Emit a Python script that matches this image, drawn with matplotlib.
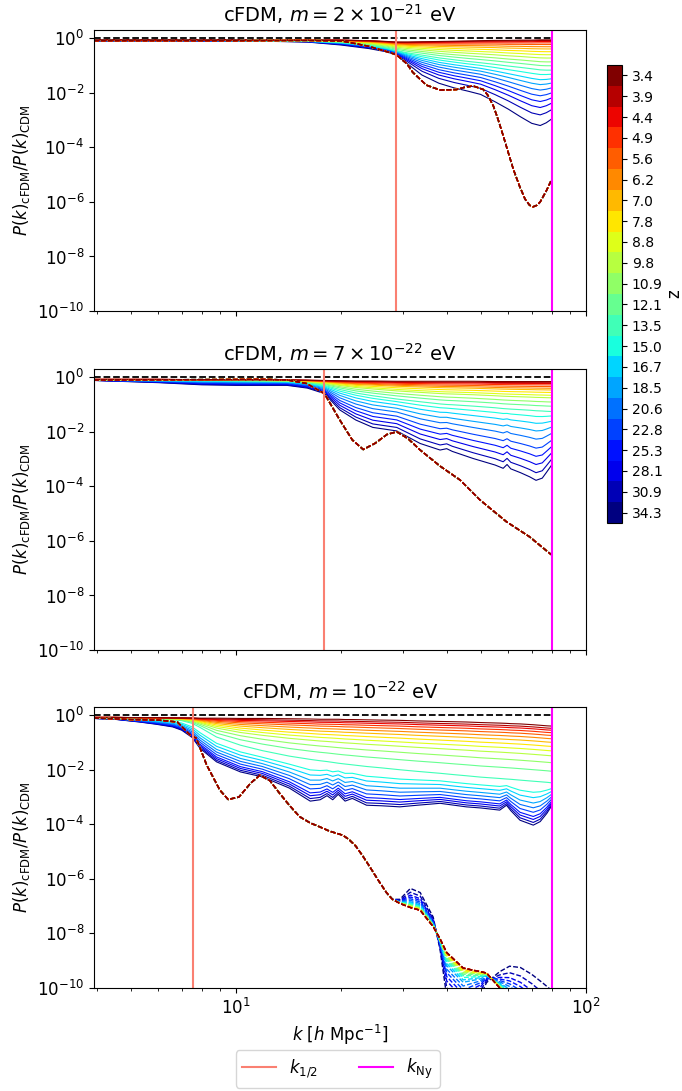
import numpy as np
import matplotlib.pyplot as plt
from matplotlib.colors import ListedColormap, Normalize
from matplotlib.cm import ScalarMappable
from matplotlib.lines import Line2D

# redshifts of the snapshots (colour bar)
z_vals = [3.4, 3.9, 4.4, 4.9, 5.6, 6.2, 7.0, 7.8, 8.8, 9.8, 10.9, 12.1,
          13.5, 15.0, 16.7, 18.5, 20.6, 22.8, 25.3, 28.1, 30.9, 34.3]

titles = [r"cFDM, $m = 2 \times 10^{-21}$ eV",
          r"cFDM, $m = 7 \times 10^{-22}$ eV",
          r"cFDM, $m = 10^{-22}$ eV"]
k_half = [28.7, 17.9, 7.55]
k_ny = 80.0
k_min = 3.93

# ---- panel 1 : m = 2e-21 (log10 of the ratio) ----
k1 = [3.93, 8, 12, 16, 20, 24, 27, 28.7, 31, 34, 38, 42, 46, 50, 55, 60, 65, 70, 74, 77, 80]
top1 = [-0.06, -0.06, -0.06, -0.07, -0.07, -0.09, -0.12, -0.14, -0.14, -0.13, -0.12,
        -0.11, -0.10, -0.09, -0.08, -0.08, -0.07, -0.07, -0.06, -0.06, -0.06]
mid1 = [-0.08, -0.08, -0.09, -0.1, -0.15, -0.25, -0.36, -0.45, -0.54, -0.62, -0.72,
        -0.79, -0.85, -0.9, -0.96, -1.02, -1.07, -1.12, -1.16, -1.17, -1.17]
bot1 = [-0.1, -0.1, -0.11, -0.14, -0.25, -0.38, -0.5, -0.62, -0.95, -1.35, -1.65,
        -1.82, -1.94, -2.06, -2.33, -2.6, -2.88, -3.12, -3.2, -3.1, -2.95]
ref_k1 = 74
ref1 = [-0.06, -0.085, -0.12, -0.17, -0.23, -0.31, -0.39, -0.49, -0.60, -0.72, -0.86,
        -1.0, -1.16, -1.33, -1.52, -1.7, -1.9, -2.11, -2.32, -2.54, -2.81, -3.2]
kd1 = [3.93, 10, 16, 20, 22, 24, 26.3, 28.7, 30.8, 32, 35, 38.3, 42.7, 45, 47.6, 50.9,
       52.5, 54.4, 56, 58.1, 60, 62, 64.5, 67, 69, 70.6, 72.5, 74, 77, 80]
dash1 = [-0.09, -0.09, -0.08, -0.1, -0.2, -0.3, -0.45, -0.6, -0.94, -1.25, -1.72, -1.9,
         -1.88, -1.8, -1.75, -1.88, -2.1, -2.49, -2.95, -3.6, -4.2, -4.8, -5.4, -5.9,
         -6.12, -6.18, -6.12, -6.0, -5.6, -5.15]

# ---- panel 2 : m = 7e-22 ----
k2 = [3.93, 6, 8, 10, 12, 14, 16, 17.9, 19.8, 22, 24.6, 28.8, 33.6, 38.3, 40, 41.5,
      47.6, 55, 58, 59.5, 61, 65, 69, 72, 75, 77, 80]
top2 = [-0.08, -0.08, -0.09, -0.09, -0.1, -0.1, -0.11, -0.12, -0.13, -0.14, -0.14,
        -0.15, -0.15, -0.15, -0.15, -0.15, -0.15, -0.16, -0.16, -0.16, -0.16, -0.16,
        -0.16, -0.16, -0.16, -0.16, -0.16]
mid2 = [-0.1, -0.11, -0.12, -0.13, -0.14, -0.15, -0.2, -0.3, -0.45, -0.58, -0.68,
        -0.8, -0.9, -0.98, -1.0, -1.01, -1.06, -1.12, -1.15, -1.16, -1.17, -1.19,
        -1.21, -1.23, -1.24, -1.25, -1.26]
bot2 = [-0.12, -0.2, -0.28, -0.3, -0.3, -0.3, -0.4, -0.6, -1.2, -1.57, -1.84,
        -1.97, -2.43, -2.67, -2.62, -2.72, -2.98, -3.22, -3.34, -3.2, -3.36, -3.5,
        -3.65, -3.78, -3.7, -3.5, -3.2]
ref_k2 = 72
ref2 = [-0.16, -0.2, -0.23, -0.28, -0.34, -0.4, -0.46, -0.55, -0.65, -0.74, -0.89,
        -1.04, -1.23, -1.44, -1.69, -1.97, -2.27, -2.6, -2.9, -3.2, -3.5, -3.78]
kd2 = [3.93, 8, 12, 14, 15.9, 17.9, 19.8, 21.5, 23.1, 25, 27, 28.8, 31, 33.6, 38.3,
       43.7, 49.8, 59.3, 69, 78.8, 80]
dash2 = [-0.1, -0.09, -0.08, -0.1, -0.23, -0.6, -1.57, -2.3, -2.65, -2.42, -2.1, -2.0,
         -2.25, -2.67, -3.26, -3.77, -4.5, -5.3, -5.85, -6.46, -6.52]

# ---- panel 3 : m = 1e-22 ----
k3 = [3.93, 4.5, 5.3, 5.9, 6.6, 7.0, 7.5, 7.9, 8.8, 10.3, 11.9, 14.2, 16.3, 17.4,
      18.2, 18.9, 19.6, 20.5, 21.5, 23.6, 26, 29.4, 33, 38.3, 42, 45.5, 50, 56.7,
      59.3, 61, 64.8, 70.7, 74, 77.3, 80]
top3 = [-0.08, -0.08, -0.09, -0.09, -0.1, -0.1, -0.1, -0.11, -0.11, -0.12, -0.12,
        -0.13, -0.14, -0.15, -0.15, -0.15, -0.15, -0.16, -0.16, -0.17, -0.18, -0.19,
        -0.21, -0.23, -0.24, -0.25, -0.27, -0.29, -0.3, -0.31, -0.32, -0.35, -0.37,
        -0.39, -0.4]
mid3 = [-0.1, -0.1, -0.12, -0.14, -0.17, -0.2, -0.3, -0.45, -0.8, -1.1, -1.3, -1.5,
        -1.62, -1.67, -1.7, -1.73, -1.76, -1.79, -1.82, -1.88, -1.93, -2.0, -2.06,
        -2.13, -2.18, -2.22, -2.27, -2.32, -2.34, -2.35, -2.38, -2.42, -2.44, -2.46,
        -2.48]
bot3 = [-0.12, -0.15, -0.25, -0.33, -0.43, -0.55, -0.82, -1.22, -1.71, -2.08, -2.26,
        -2.67, -3.15, -3.1, -2.95, -3.1, -2.9, -3.15, -3.05, -3.3, -3.32, -3.36, -3.3,
        -3.23, -3.3, -3.36, -3.4, -3.48, -3.3, -3.5, -3.85, -4.03, -3.9, -3.6, -3.3]
ref_k3 = 64.8
ref3 = [-0.32, -0.4, -0.47, -0.56, -0.66, -0.78, -0.91, -1.06, -1.22, -1.4, -1.65,
        -1.96, -2.38, -2.75, -2.93, -3.11, -3.27, -3.42, -3.56, -3.66, -3.76, -3.85]
kd3 = [3.93, 5, 6, 6.8, 7.4, 7.7, 8.25, 9.0, 9.5, 10.2, 11, 11.7, 12.5, 13.3, 14.2,
       15.2, 16.3, 17.4, 18.5, 20.2, 21, 22, 23, 24.1, 25.5, 26.9, 28, 29.4, 31.5,
       33.6, 36.6, 38.3, 40, 44.6, 49.8, 52, 56.7, 60.5, 65, 70, 75, 80]
dash3 = [-0.1, -0.16, -0.18, -0.25, -0.73, -0.84, -1.83, -2.75, -3.09, -3.0, -2.5,
         -2.2, -2.4, -2.85, -3.3, -3.72, -3.95, -4.1, -4.25, -4.4, -4.55, -4.8, -5.15,
         -5.55, -6.05, -6.5, -6.75, -6.9, -7.05, -7.15, -7.75, -8.2, -8.7, -9.27, -9.4,
         -9.45, -10.0, -10.4, -10.8, -11.2, -11.6, -12.0]
# highest-z dashed curve beyond k = 29.4 (same as dash3 below that)
k_tail3 = 29.4
dash3_blue_tail = [-6.75, -6.35, -6.5, -7.4, -8.6, -10.3, -11.0, -10.3, -9.8, -9.4,
                   -9.2, -9.25, -9.5, -9.8, -10.1]
dash3_mix = [0, 0, 0, 0, 0, 0, 0.02, 0.04, 0.06, 0.08, 0.1, 0.13, 0.16, 0.2, 0.25,
             0.3, 0.38, 0.46, 0.55, 0.65, 0.8, 1.0]


def fan(k, top, mid, bot, k_ref, refs):
    top, mid, bot = np.array(top), np.array(mid), np.array(bot)
    j = int(np.argmin(np.abs(np.array(k) - k_ref)))
    out = []
    for r in refs:
        if r >= mid[j]:
            w = (top[j] - r) / (top[j] - mid[j])
            out.append(top + w * (mid - top))
        else:
            w = (mid[j] - r) / (mid[j] - bot[j])
            out.append(mid + w * (bot - mid))
    return out


jet = plt.get_cmap('jet')
n = len(z_vals)
colors = [jet(1 - i / (n - 1)) for i in range(n)]

fig = plt.figure(figsize=(6.82, 10.91), dpi=100)
positions = [[0.1378, 0.7149, 0.7214, 0.2576],
             [0.1378, 0.4042, 0.7214, 0.2576],
             [0.1378, 0.0944, 0.7214, 0.2576]]

panels = [
    (k1, top1, mid1, bot1, ref_k1, ref1, kd1, dash1),
    (k2, top2, mid2, bot2, ref_k2, ref2, kd2, dash2),
    (k3, top3, mid3, bot3, ref_k3, ref3, kd3, dash3),
]

axes = []
for p, (k, top, mid, bot, kref, refs, kd, dash) in enumerate(panels):
    ax = fig.add_axes(positions[p])
    axes.append(ax)
    curves = fan(k, top, mid, bot, kref, refs)
    for i in reversed(range(n)):
        ax.plot(k, 10 ** curves[i], color=colors[i], lw=0.8)
    ax.plot([k_min, k_ny], [1, 1], 'k--', lw=1.3)
    dash = np.array(dash)
    if p == 2:
        blue = dash.copy()
        blue[np.array(kd) >= k_tail3] = dash3_blue_tail
    for i in reversed(range(n)):
        if p == 2:
            d = dash + dash3_mix[i] * (blue - dash)
        else:
            d = dash
        ax.plot(kd, 10 ** d, color=colors[i], lw=1.0, ls=(0, (3.5, 1.5)))
    ax.axvline(k_half[p], color='salmon', lw=1.5)
    ax.axvline(k_ny, color='magenta', lw=1.5)
    ax.set_xscale('log')
    ax.set_yscale('log')
    ax.set_xlim(k_min, 100)
    ax.set_ylim(1e-10, 2.0)
    ax.set_yticks([1e0, 1e-2, 1e-4, 1e-6, 1e-8, 1e-10])
    ax.yaxis.set_minor_locator(plt.NullLocator())
    ax.tick_params(axis='both', labelsize=12)
    ax.set_title(titles[p], fontsize=14)
    ax.set_ylabel(r"$P(k)_{\rm cFDM}/P(k)_{\rm CDM}$", fontsize=12)
    if p < 2:
        ax.tick_params(axis='x', which='both', labelbottom=False)

axes[2].set_xlabel(r"$k$ [$h$ Mpc$^{-1}$]", fontsize=12)

cax = fig.add_axes([0.890, 0.5206, 0.022, 0.4198])
cmap = ListedColormap(colors[::-1])
sm = ScalarMappable(norm=Normalize(0, n), cmap=cmap)
cb = fig.colorbar(sm, cax=cax, ticks=np.arange(n) + 0.5)
cb.ax.set_yticklabels([f"{z:.1f}" for z in z_vals[::-1]], fontsize=10)
cb.set_label("z", fontsize=12, labelpad=2)

handles = [Line2D([], [], color='salmon', lw=1.5),
           Line2D([], [], color='magenta', lw=1.5)]
fig.legend(handles, [r"$k_{1/2}$", r"$k_{\rm Ny}$"], loc='lower center',
           bbox_to_anchor=(0.495, 0.003), borderaxespad=0, ncol=2, fontsize=12,
           columnspacing=2.5)

fig.savefig("out.png", dpi=100)
